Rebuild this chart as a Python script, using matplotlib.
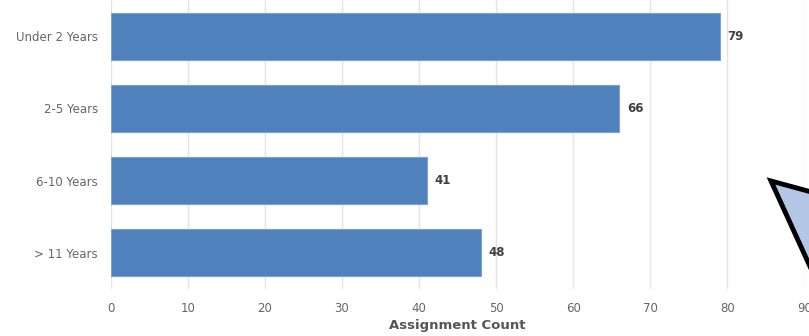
import matplotlib.pyplot as plt
from matplotlib.patches import Polygon

categories = ['Under 2 Years', '2-5 Years', '6-10 Years', '> 11 Years']
counts = [79, 66, 41, 48]
x_ticks = [0, 10, 20, 30, 40, 50, 60, 70, 80, 90]

W, H = 809, 336
fig = plt.figure(figsize=(W / 100, H / 100), dpi=100)
ax = fig.add_axes([110.5 / W, 47 / H, 694 / W, 289 / H])

ypos = list(range(len(categories)))
ax.barh(ypos, counts, height=0.65, color='#4f81bd', edgecolor='#7da0d0',
        linewidth=0.8, zorder=3)

# value labels at the end of each bar
for y, v in zip(ypos, counts):
    ax.annotate(str(v), (v, y), xytext=(5.5, 0), textcoords='offset points',
                va='center', ha='left', fontsize=8.5, fontweight='bold',
                color='#404040', zorder=4)

ax.set_xlim(0, 90)
ax.set_ylim(len(categories) - 0.5, -0.5)
ax.set_yticks(ypos)
ax.set_yticklabels(categories)
ax.set_xticks(x_ticks)
ax.tick_params(axis='both', length=0, labelsize=8.5, labelcolor='#666666')
ax.tick_params(axis='x', pad=9)
ax.tick_params(axis='y', pad=9)
ax.grid(axis='x', color='#e4e4e4', linewidth=1, zorder=0)
for s in ax.spines.values():
    s.set_visible(False)
ax.set_xlabel('Assignment Count', fontsize=9.5, fontweight='bold',
              color='#555555', labelpad=3)

# callout arrow overlapping the bottom-right corner
pts = [(771, 181), (900, 216), (880, 420)]
arrow = Polygon([(px / W, 1 - py / H) for px, py in pts], closed=True,
                transform=fig.transFigure, facecolor='#b4c7e7',
                edgecolor='black', linewidth=3.5, zorder=10)
fig.patches.append(arrow)

fig.savefig('out.png', dpi=100)
